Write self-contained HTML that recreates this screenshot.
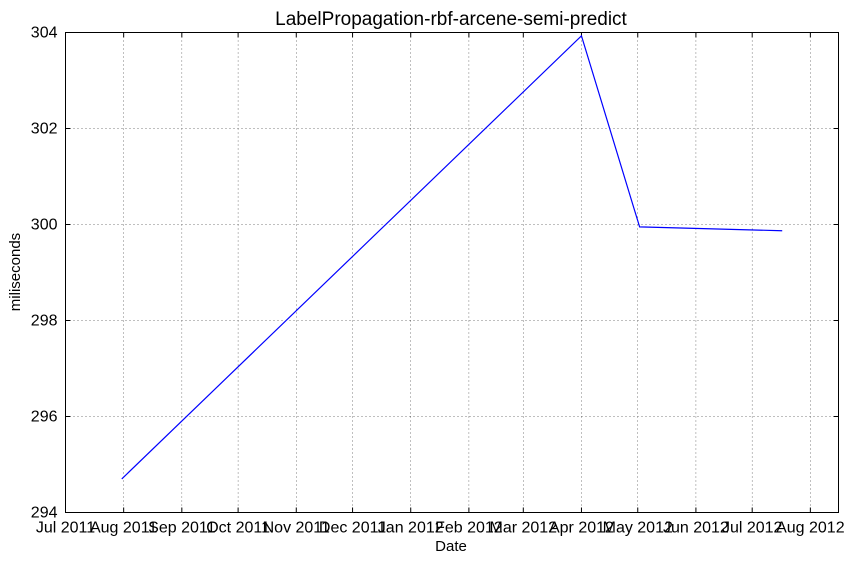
<!DOCTYPE html>
<html><head><meta charset="utf-8"><style>
body{margin:0;background:#fff;font-family:"Liberation Sans",sans-serif;}
svg text{font-family:"Liberation Sans",sans-serif;}
</style></head><body>
<svg id="chart" width="858" height="561" xmlns="http://www.w3.org/2000/svg">
<rect x="0" y="0" width="858" height="561" fill="#fff"/>
<g id="grid"></g>
<g id="ticks"></g>
<path id="series" fill="none" stroke="#0000ff" stroke-width="1.2"/>
<rect x="65.5" y="32.5" width="773" height="480" fill="none" stroke="#000" stroke-width="1"/>
<text x="451" y="25" font-size="19" text-anchor="middle">LabelPropagation-rbf-arcene-semi-predict</text>
<text x="451" y="551" font-size="15" text-anchor="middle">Date</text>
<text x="20" y="272" font-size="15" text-anchor="middle" transform="rotate(-90 20 272)">miliseconds</text>
</svg>
<script>
const dates = ["2011-07-31","2012-04-01","2012-05-02","2012-07-17"];
const values = [294.7, 303.93, 299.95, 299.87];
const xTickLabels = ["Jul 2011","Aug 2011","Sep 2011","Oct 2011","Nov 2011","Dec 2011","Jan 2012","Feb 2012","Mar 2012","Apr 2012","May 2012","Jun 2012","Jul 2012","Aug 2012"];
const xTickDates = ["2011-07-01","2011-08-01","2011-09-01","2011-10-01","2011-11-01","2011-12-01","2012-01-01","2012-02-01","2012-03-01","2012-04-01","2012-05-01","2012-06-01","2012-07-01","2012-08-01"];
const yTicks = [294,296,298,300,302,304];

const L=65.5,R=838.5,T=32.5,B=512.5;
const d0=Date.parse("2011-07-01"), d1=Date.parse("2012-08-16");
const x=d=>L+(Date.parse(d)-d0)/(d1-d0)*(R-L);
const y=v=>B-(v-294)/(304-294)*(B-T);
const ns="http://www.w3.org/2000/svg";
const grid=document.getElementById('grid'), ticks=document.getElementById('ticks');
function mk(tag,attrs,parent){const e=document.createElementNS(ns,tag);for(const k in attrs)e.setAttribute(k,attrs[k]);parent.appendChild(e);return e;}
xTickDates.forEach((d,i)=>{
  const px=x(d);
  const g=mk('line',{x1:px,x2:px,y1:T,y2:B,stroke:'#000','stroke-width':0.5,'stroke-dasharray':'1,3'},grid);
  
  
  mk('line',{x1:px,x2:px,y1:B,y2:B-5,stroke:'#000'},ticks);
  mk('line',{x1:px,x2:px,y1:T,y2:T+5,stroke:'#000'},ticks);
  const t=mk('text',{x:px,y:B+20,'font-size':16,'text-anchor':'middle'},ticks);
  t.textContent=xTickLabels[i];
  
  
});
yTicks.forEach(v=>{
  const py=y(v);
  const g=mk('line',{x1:L,x2:R,y1:py,y2:py,stroke:'#000','stroke-width':0.5,'stroke-dasharray':'1,3'},grid);
  
  
  mk('line',{x1:L,x2:L+5,y1:py,y2:py,stroke:'#000'},ticks);
  mk('line',{x1:R,x2:R-5,y1:py,y2:py,stroke:'#000'},ticks);
  const t=mk('text',{x:L-8,y:py+5,'font-size':16,'text-anchor':'end'},ticks);
  t.textContent=v;
  
  
});
document.getElementById('series').setAttribute('d',dates.map((d,i)=>(i?'L':'M')+x(d)+','+y(values[i])).join(' '));
</script>
</body></html>
